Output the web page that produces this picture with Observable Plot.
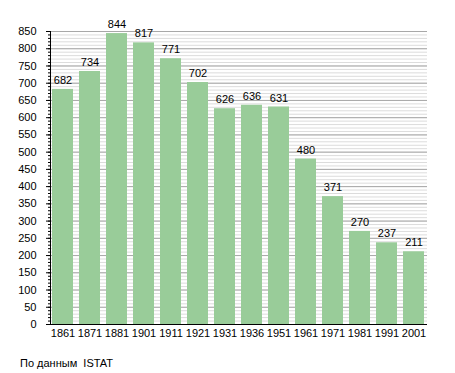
<!DOCTYPE html>
<html>
<head>
<meta charset="utf-8">
<script src="https://cdn.jsdelivr.net/npm/d3@7"></script>
<script src="https://cdn.jsdelivr.net/npm/@observablehq/plot@0.6"></script>
<style>
  body { margin: 0; background: #fff; font-family: "Liberation Sans", Arial, sans-serif; }
  #caption { font-size: 11px; color: #000; margin: 12px 0 0 20px; white-space: pre; }
</style>
</head>
<body>
<div id="chart"></div>
<div id="caption">По данным  ISTAT</div>
<script>
const years = ["1861","1871","1881","1901","1911","1921","1931","1936","1951","1961","1971","1981","1991","2001"];
const values = [682, 734, 844, 817, 771, 702, 626, 636, 631, 480, 371, 270, 237, 211];
const majorTicks = d3.range(0, 851, 50);
const minorTicks = d3.range(0, 851, 10);

const data = years.map((y, i) => ({year: y, value: values[i]}));

const chart = Plot.plot({
  width: 455,
  height: 345,
  marginLeft: 50,
  marginRight: 28,
  marginTop: 31,
  marginBottom: 21,
  style: {fontFamily: "'Liberation Sans', Arial, sans-serif", fontSize: "11px", color: "#000", background: "#fff"},
  x: {type: "band", domain: years, paddingInner: 0.22, paddingOuter: 0.04, label: null},
  y: {domain: [0, 850], label: null},
  marks: [
    Plot.gridY(minorTicks, {stroke: "#dcdcdc", strokeOpacity: 1}),
    Plot.gridY(majorTicks, {stroke: "#a8a8a8", strokeOpacity: 1}),
    Plot.barY(data, {x: "year", y: "value", fill: "#99cc99"}),
    Plot.text(data, {x: "year", y: "value", text: d => String(d.value), dy: -9, fill: "#000", fontSize: 11}),
    Plot.axisY(minorTicks, {tickSize: 2, tickFormat: () => "", stroke: "#000"}),
    Plot.axisY(majorTicks, {tickSize: 4, tickPadding: 10, stroke: "#000", fill: "#000"}),
    Plot.axisX({tickSize: 0, tickPadding: 5, fill: "#000"}),
    Plot.frame({anchor: "left", stroke: "#000"}),
    Plot.ruleY([0], {stroke: "#000"})
  ]
});
document.getElementById("chart").appendChild(chart);
</script>
</body>
</html>
